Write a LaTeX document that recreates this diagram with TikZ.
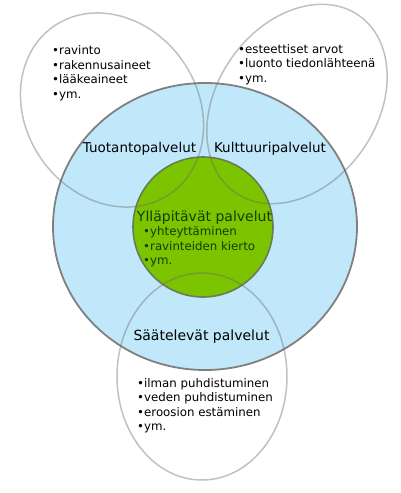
\documentclass[tikz,border=0pt]{standalone}
\usepackage{fontspec}
\setmainfont{DejaVu Sans}
\usepackage{tikz}
\usetikzlibrary{positioning}
\definecolor{taivas}{HTML}{C1E8FA}
\definecolor{ruoho}{HTML}{7DC400}
\definecolor{tumma}{HTML}{163C00}
\definecolor{reuna}{RGB}{105,125,85}

\begin{document}
\begin{tikzpicture}[x=1pt,y=-1pt,
  rengas/.style={draw=black!60,draw opacity=0.4,line width=1.5pt},
  otsikko/.style={font=\fontsize{13.5}{16}\selectfont,anchor=base,inner sep=0pt},
  kohta/.style={font=\fontsize{11.8}{14}\selectfont,anchor=base west,inner sep=0pt}]
\useasboundingbox (0,0) rectangle (400,493);
\fill[white] (0,0) rectangle (400,493);
% sisakkaiset palvelut
\filldraw[fill=taivas,draw=black!50,line width=1.8pt] (205,226.5) ellipse [x radius=152,y radius=143.5];
\filldraw[fill=ruoho,draw=reuna,line width=1.6pt] (203,227) circle (70);
% ulommat renkaat
\draw[rengas,rotate around={-55:(112,110)}] (112,110) ellipse [x radius=102,y radius=86];
\draw[rengas,rotate around={55:(297,104)}] (297,104) ellipse [x radius=108,y radius=80];
\draw[rengas] (202,376.5) ellipse [x radius=85,y radius=103.5];
% otsikot
\node[otsikko] (tuotanto) at (139.5,152) {Tuotantopalvelut};
\node[otsikko] (kulttuuri) at (270,152) {Kulttuuripalvelut};
\node[otsikko,font=\fontsize{14}{16}\selectfont,text=tumma] (yllapito) at (204.5,221.5) {Ylläpitävät palvelut};
\node[otsikko,font=\fontsize{14}{16}\selectfont] (saately) at (201.5,340.5) {Säätelevät palvelut};
% luettelot
\foreach \t [count=\i] in {ravinto,rakennusaineet,lääkeaineet,ym.}
  \node[kohta] (tuo\i) at (52,{54.5+14.5*(\i-1)}) {•\t};
\foreach \t [count=\i] in {esteettiset arvot,luonto tiedonlähteenä,ym.}
  \node[kohta] (kul\i) at (238,{53+14.5*(\i-1)}) {•\t};
\foreach \t [count=\i] in {yhteyttäminen,ravinteiden kierto,ym.}
  \node[kohta,text=tumma] (yll\i) at (143,{235.5+14.5*(\i-1)}) {•\t};
\foreach \t [count=\i] in {ilman puhdistuminen,veden puhdistuminen,eroosion estäminen,ym.}
  \node[kohta] (saa\i) at (137,{387+14.6*(\i-1)}) {•\t};
\end{tikzpicture}
\end{document}
